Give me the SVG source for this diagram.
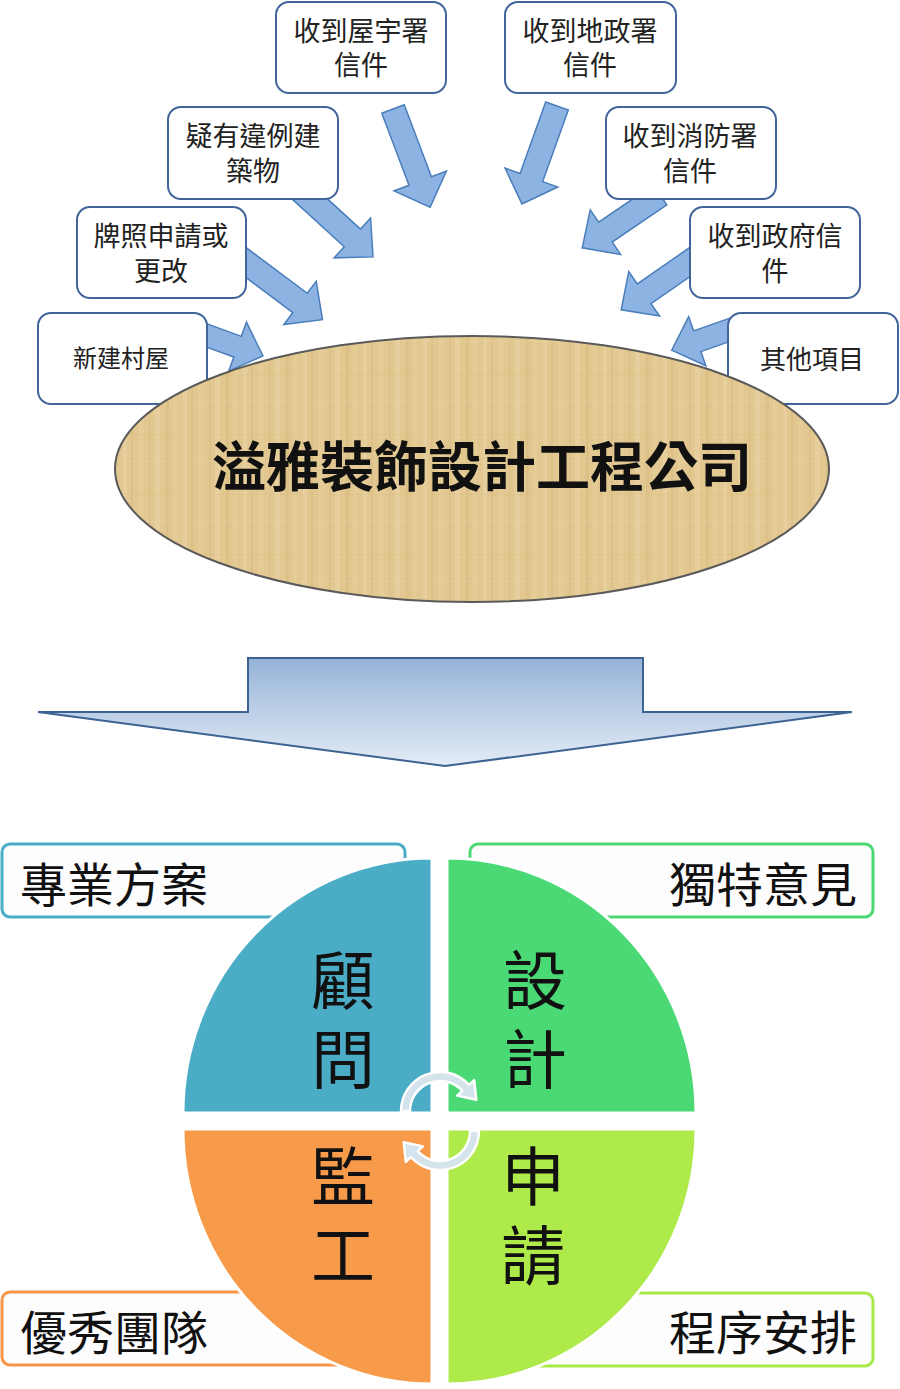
<svg xmlns="http://www.w3.org/2000/svg" width="900" height="1389" viewBox="0 0 900 1389">
<style>
.box{fill:#fff;stroke:#41659b;stroke-width:2}
.bt{font-family:"Liberation Sans","Noto Sans CJK TC","Noto Sans CJK SC",sans-serif;font-size:27px;fill:#222;text-anchor:middle}
.arr{fill:#8db3e2;stroke:#4a7ebb;stroke-width:1.5;stroke-linejoin:miter}
.lbl{fill:#fdfdfd;stroke-width:3}
.lt{font-family:"Noto Sans CJK TC","Noto Sans CJK SC",sans-serif;font-size:47px;fill:#111}
.qt{font-family:"Noto Sans CJK TC","Noto Sans CJK SC",sans-serif;font-size:64px;fill:#111;writing-mode:vertical-rl;letter-spacing:15px}
.quad{stroke:#fff;stroke-width:3}
.cyc{fill:#d5e3ec;stroke:#fff;stroke-width:2.5;stroke-linejoin:round}
</style>
<defs>
<linearGradient id="bg" x1="0" y1="0" x2="0" y2="1">
<stop offset="0" stop-color="#95b3d7"/>
<stop offset="1" stop-color="#e4ecf6"/>
</linearGradient>
<pattern id="pap" x="0" y="0" width="60" height="60" patternUnits="userSpaceOnUse">
<rect width="60" height="60" fill="#e2c890"/>
<rect x="3" width="4" height="60" fill="#ebd7aa" opacity="0.45"/>
<rect x="11" width="2" height="60" fill="#d2b274" opacity="0.35"/>
<rect x="18" width="6" height="60" fill="#e9d29f" opacity="0.4"/>
<rect x="29" width="2" height="60" fill="#d6b77b" opacity="0.4"/>
<rect x="35" width="5" height="60" fill="#ecdaae" opacity="0.4"/>
<rect x="46" width="3" height="60" fill="#d0b071" opacity="0.3"/>
<rect x="53" width="4" height="60" fill="#e8d09b" opacity="0.45"/>
<rect y="14" width="60" height="1" fill="#d6b87a" opacity="0.3"/>
<rect y="41" width="60" height="1" fill="#ead5a6" opacity="0.4"/>
</pattern>
</defs>

<g id="connectors">
<path class="arr" transform="translate(393,109) rotate(69.3)" d="M0 -12 L77 -12 L77 -28 L105 0 L77 28 L77 12 L0 12 Z"/>
<path class="arr" transform="translate(557,106) rotate(109.7)" d="M0 -12 L76 -12 L76 -28 L104 0 L76 28 L76 12 L0 12 Z"/>
<path class="arr" transform="translate(300,190) rotate(42.5)" d="M0 -12 L71 -12 L71 -27 L99 0 L71 27 L71 12 L0 12 Z"/>
<path class="arr" transform="translate(236,255) rotate(36.8)" d="M0 -12 L80 -12 L80 -27 L108 0 L80 27 L80 12 L0 12 Z"/>
<path class="arr" transform="translate(200,333) rotate(20)" d="M0 -11 L40 -11 L40 -26 L67 0 L40 26 L40 11 L0 11 Z"/>
<path class="arr" transform="translate(660,195) rotate(145.8)" d="M0 -12 L66 -12 L66 -27 L94 0 L66 27 L66 12 L0 12 Z"/>
<path class="arr" transform="translate(700,255) rotate(145.2)" d="M0 -12 L68 -12 L68 -27 L96 0 L68 27 L68 12 L0 12 Z"/>
<path class="arr" transform="translate(735,328) rotate(160.7)" d="M0 -11 L40 -11 L40 -26 L67 0 L40 26 L40 11 L0 11 Z"/>
</g>

<g id="n1"><rect class="box" x="276" y="2" width="170" height="91" rx="13"/><text class="bt" x="361" y="41">收到屋宇署<tspan x="361" dy="34">信件</tspan></text></g>
<g id="n2"><rect class="box" x="168" y="107" width="170" height="92" rx="13"/><text class="bt" x="253" y="146">疑有違例建<tspan x="253" dy="35">築物</tspan></text></g>
<g id="n3"><rect class="box" x="77" y="207" width="169" height="91" rx="13"/><text class="bt" x="161" y="246">牌照申請或<tspan x="161" dy="35">更改</tspan></text></g>
<g id="n4"><rect class="box" x="38" y="313" width="169" height="91" rx="13"/><text class="bt" x="121" y="367" style="font-size:24px">新建村屋</text></g>
<g id="n5"><rect class="box" x="505" y="2" width="171" height="91" rx="13"/><text class="bt" x="590" y="41">收到地政署<tspan x="590" dy="34">信件</tspan></text></g>
<g id="n6"><rect class="box" x="606" y="107" width="170" height="92" rx="13"/><text class="bt" x="690" y="146">收到消防署<tspan x="690" dy="35">信件</tspan></text></g>
<g id="n7"><rect class="box" x="690" y="207" width="170" height="91" rx="13"/><text class="bt" x="775" y="246">收到政府信<tspan x="775" dy="35">件</tspan></text></g>
<g id="n8"><rect class="box" x="728" y="313" width="170" height="91" rx="13"/><text class="bt" x="812" y="369" style="font-size:26px">其他項目</text></g>

<g id="company">
<ellipse cx="472" cy="469" rx="357" ry="133" fill="url(#pap)" stroke="#5a5a5a" stroke-width="2"/>
<text x="482" y="487" text-anchor="middle" style="font-family:'Noto Sans CJK TC','Noto Sans CJK SC',sans-serif;font-size:54px;font-weight:bold;fill:#111">溢雅裝飾設計工程公司</text>
</g>

<g id="bigArrow">
<path d="M248 658 L643 658 L643 712 L852 712 L445 766 L38 712 L248 712 Z" fill="url(#bg)" stroke="#3d6393" stroke-width="2"/>
</g>

<g id="labels">
<rect class="lbl" x="2" y="844" width="403" height="73" rx="8" stroke="#4bacc6"/>
<text class="lt" x="20" y="902">專業方案</text>
<rect class="lbl" x="470" y="844" width="403" height="73" rx="8" stroke="#4cd873"/>
<text class="lt" x="857" y="902" text-anchor="end">獨特意見</text>
<rect class="lbl" x="2" y="1292" width="403" height="73" rx="8" stroke="#f79646"/>
<text class="lt" x="20" y="1350">優秀團隊</text>
<rect class="lbl" x="470" y="1293" width="403" height="73" rx="8" stroke="#a9e849"/>
<text class="lt" x="857" y="1350" text-anchor="end">程序安排</text>
</g>

<g id="q1"><path class="quad" fill="#4bacc6" d="M432 1113 L183 1113 A249 255 0 0 1 432 858 Z"/><text class="qt" x="343" y="948">顧問</text></g>
<g id="q2"><path class="quad" fill="#4ad975" d="M447 1113 L447 858 A249 255 0 0 1 696 1113 Z"/><text class="qt" x="535" y="948">設計</text></g>
<g id="q3"><path class="quad" fill="#f79a4a" d="M432 1129 L432 1384 A249 255 0 0 1 183 1129 Z"/><text class="qt" x="343" y="1144">監工</text></g>
<g id="q4"><path class="quad" fill="#adea4a" d="M447 1129 L696 1129 A249 255 0 0 1 447 1384 Z"/><text class="qt" x="533" y="1144">申請</text></g>

<g id="cycle">
<path class="cyc" d="M401 1111 A39 39 0 0 1 469 1084.9 L474.2 1080.2 L476.3 1099.8 L457.1 1095.6 L462.3 1090.9 A30 30 0 0 0 410 1111 Z"/>
<path class="cyc" transform="rotate(180 440 1121)" d="M401 1111 A39 39 0 0 1 469 1084.9 L474.2 1080.2 L476.3 1099.8 L457.1 1095.6 L462.3 1090.9 A30 30 0 0 0 410 1111 Z"/>
</g>
</svg>
